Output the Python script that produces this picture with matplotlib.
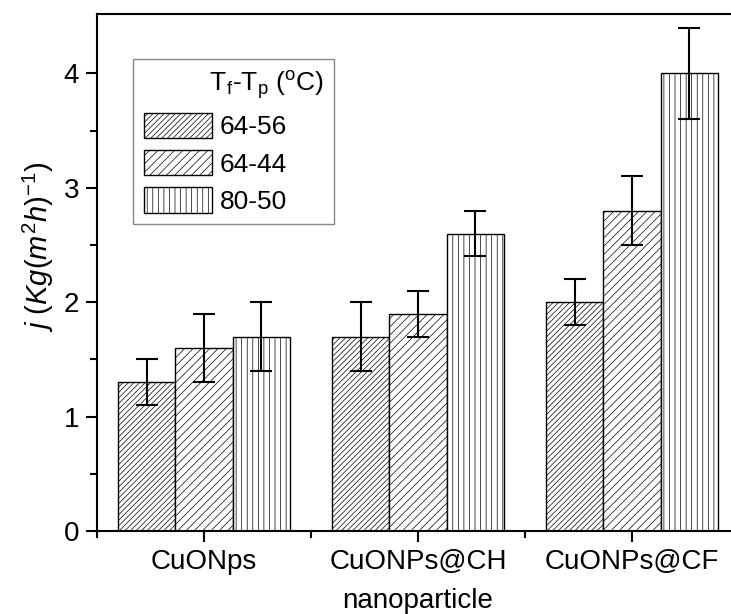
import matplotlib
matplotlib.use("Agg")
import matplotlib.pyplot as plt
import numpy as np

plt.rcParams['font.family'] = ['Liberation Sans', 'DejaVu Sans']
plt.rcParams['mathtext.fontset'] = 'custom'
plt.rcParams['mathtext.rm'] = 'Liberation Sans'
plt.rcParams['mathtext.it'] = 'Liberation Sans:italic'
plt.rcParams['hatch.linewidth'] = 0.5

# datos
categories = ['CuONps', 'CuONPs@CH', 'CuONPs@CF']
series_labels = ['64-56', '64-44', '80-50']
flux = [
    [1.3, 1.7, 2.0],   # 64-56
    [1.6, 1.9, 2.8],   # 64-44
    [1.7, 2.6, 4.0],   # 80-50
]
flux_err = [
    [0.2, 0.3, 0.2],
    [0.3, 0.2, 0.3],
    [0.3, 0.2, 0.4],
]
hatches = ['//////', '////', '|||']

fig = plt.figure(figsize=(7.31, 6.14), dpi=100)
ax = fig.add_axes([97 / 731, 83 / 614, 642 / 731, 517 / 614])

x = np.arange(len(categories))
w = 0.267
for k in range(3):
    ax.bar(x + (k - 1) * w, flux[k], w, facecolor='white', edgecolor='black',
           linewidth=1.0, hatch=hatches[k], label=series_labels[k])
    ax.errorbar(x + (k - 1) * w, flux[k], yerr=flux_err[k], fmt='none',
                ecolor='black', elinewidth=1.5, capsize=8, capthick=1.5)

ax.set_xlim(-0.5, 2.5)
ax.set_ylim(0, 4.52)
ax.set_xticks(x)
ax.set_xticklabels(categories)
ax.set_xticks([-0.5, 0.5, 1.5, 2.5], minor=True)
ax.set_yticks([0, 1, 2, 3, 4])
ax.set_yticks([0.5, 1.5, 2.5, 3.5], minor=True)
ax.tick_params(which='both', direction='out', width=1.5, labelsize=20)
ax.tick_params(which='major', length=8, pad=5)
ax.tick_params(which='minor', length=5)
for s in ['left', 'bottom', 'top', 'right']:
    ax.spines[s].set_linewidth(1.5)

ax.set_xlabel('nanoparticle', fontsize=20, labelpad=9)
ax.set_ylabel(r'$\mathit{j\ (Kg(m^2h)^{-1})}$', fontsize=21)
ax.yaxis.set_label_coords(-0.064, 0.55)

leg = ax.legend(title=r'$\qquad\quad$T$_\mathrm{f}$-T$_\mathrm{p}$ ($^\mathrm{o}$C)',
                loc='upper left', bbox_to_anchor=(0.056, 0.913), borderaxespad=0,
                fontsize=19, title_fontsize=19, fancybox=False, framealpha=1,
                edgecolor='#888888', handlelength=2.6, handleheight=1.1,
                labelspacing=0.4, handletextpad=0.3, borderpad=0.4,
                alignment='left')
leg.get_frame().set_linewidth(1.0)

fig.savefig('out.png', dpi=100)
